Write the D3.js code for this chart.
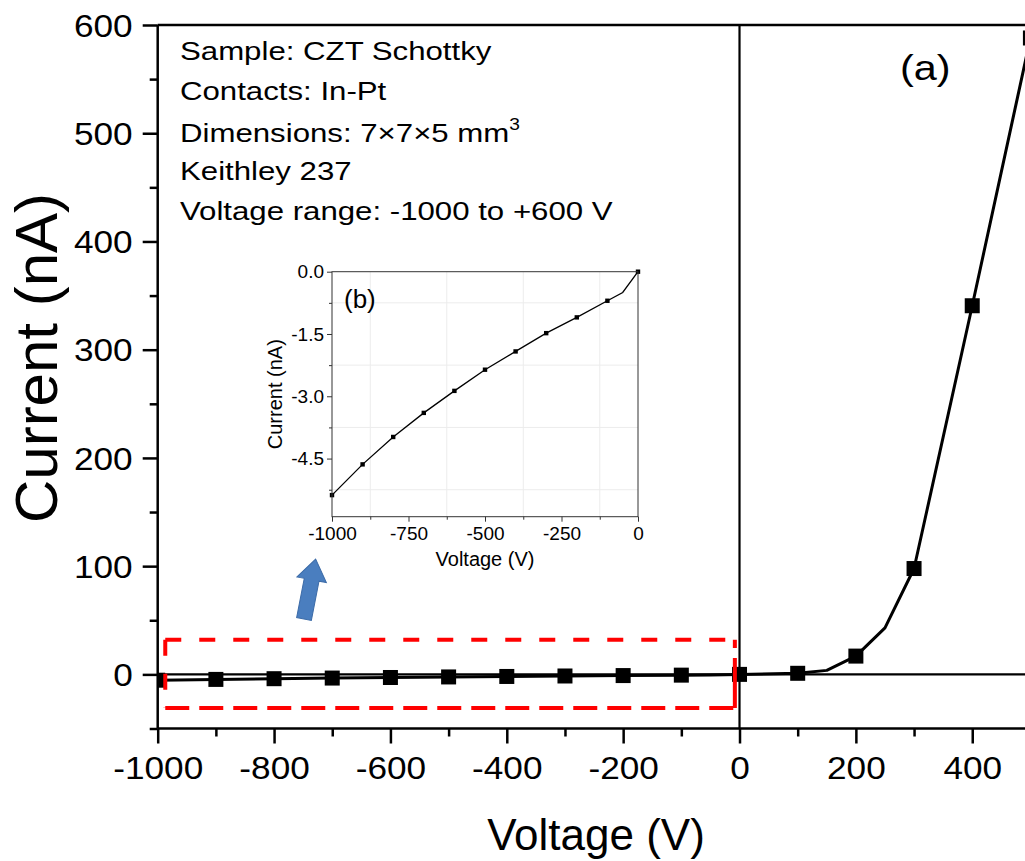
<!DOCTYPE html>
<html><head><meta charset="utf-8">
<script src="https://cdn.jsdelivr.net/npm/d3@7"></script>
<style>body{margin:0;background:#fff} svg{display:block} text{font-family:"Liberation Sans",Arial,sans-serif;fill:#000}</style>
</head><body><svg id="c" width="1025" height="861"></svg>
<script>
// ---- data ----
const voltage = [-1000,-900,-800,-700,-600,-500,-400,-300,-200,-100,-50,0,100,150,200,250,300,400,500];
const current = [-5.38,-4.64,-3.98,-3.40,-2.87,-2.36,-1.92,-1.48,-1.10,-0.70,-0.50,0,1.0,3.7,16.9,43,97.8,340.6,588];
const markerVoltages = [-1000,-900,-800,-700,-600,-500,-400,-300,-200,-100,0,100,200,300,400,500];
const xTicks = [-1000,-800,-600,-400,-200,0,200,400];
const xMinor = [-900,-700,-500,-300,-100,100,300,500];
const yTicks = [0,100,200,300,400,500,600];
const yMinor = [-50,50,150,250,350,450,550];
const insetXTicks = [-1000,-750,-500,-250,0];
const insetXMinor = [-875,-625,-375,-125];
const insetYTicks = [0,-1.5,-3.0,-4.5];
const insetYMinor = [-0.75,-2.25,-3.75,-5.25];
const notes = ["Sample: CZT Schottky","Contacts: In-Pt","Dimensions: 7\u00d77\u00d75 mm","Keithley 237","Voltage range: -1000 to +600 V"];
const zoomBox = {v0:-987, v1:-8, i0:-31, i1:32};

const pts = voltage.map((v,i)=>({v, c:current[i]}));
const markPts = pts.filter(p=>markerVoltages.includes(p.v));
const negPts = pts.filter(p=>p.v<=0);
const negMarks = negPts.filter(p=>p.v%100===0);

const svg = d3.select("#c");
const L=157.7, R=1088.6, T=25, B=728.5;
const x = d3.scaleLinear().domain([-1000,600]).range([L,R]);
const y = d3.scaleLinear().domain([-50,600]).range([B,T]);

svg.append("defs").append("clipPath").attr("id","pc")
  .append("rect").attr("x",L).attr("y",T).attr("width",R-L).attr("height",B-T);

const plot = svg.append("g").attr("clip-path","url(#pc)");
// zero lines
plot.append("line").attr("x1",L).attr("x2",R).attr("y1",y(0)).attr("y2",y(0)).attr("stroke","#000").attr("stroke-width",2.2);
plot.append("line").attr("x1",x(0)).attr("x2",x(0)).attr("y1",T).attr("y2",B).attr("stroke","#000").attr("stroke-width",2.2);
// data line
plot.append("path").datum(pts).attr("fill","none").attr("stroke","#000").attr("stroke-width",3)
  .attr("stroke-linejoin","round")
  .attr("d",d3.line().x(d=>x(d.v)).y(d=>y(d.c)));
const ms=15;
plot.selectAll("rect.m").data(markPts).join("rect").attr("class","m")
  .attr("x",d=>x(d.v)-ms/2).attr("y",d=>y(d.c)-ms/2).attr("width",ms).attr("height",ms).attr("fill","#000");

// red dashed box
const bx0=x(zoomBox.v0), bx1=x(zoomBox.v1), by0=y(zoomBox.i1), by1=y(zoomBox.i0);
const red = svg.append("g").attr("stroke","#f00").attr("stroke-width",4).attr("fill","none");
red.append("line").attr("x1",bx0).attr("x2",bx1).attr("y1",by0).attr("y2",by0).attr("stroke-dasharray","16,18");
red.append("line").attr("x1",bx0).attr("x2",bx1).attr("y1",by1).attr("y2",by1).attr("stroke-dasharray","24,10");
red.append("line").attr("x1",bx0).attr("x2",bx0).attr("y1",by0).attr("y2",by1).attr("stroke-dasharray","16,18");
red.append("line").attr("x1",bx1).attr("x2",bx1).attr("y1",by1).attr("y2",by0).attr("stroke-dasharray","50,10");

// axes
const fmt = d => String(d);
function styleAxis(g,w){ g.select(".domain").remove(); g.selectAll("line").attr("stroke","#000").attr("stroke-width",w); }
const xa = svg.append("g").attr("transform",`translate(0,${B})`)
  .call(d3.axisBottom(x).tickValues(xTicks).tickSize(15).tickFormat(fmt));
styleAxis(xa,2.5);
xa.selectAll(".tick text").attr("font-size",32).attr("dy",0).attr("y",51).attr("x",0).attr("transform","scale(1.1,1)");
const xm = svg.append("g").attr("transform",`translate(0,${B})`)
  .call(d3.axisBottom(x).tickValues(xMinor).tickSize(8).tickFormat(""));
styleAxis(xm,2.5);
const ya = svg.append("g").attr("transform",`translate(${L},0)`)
  .call(d3.axisLeft(y).tickValues(yTicks).tickSize(15).tickFormat(fmt));
styleAxis(ya,2.5);
ya.selectAll(".tick text").attr("font-size",32).attr("dy","0.35em").attr("x",-25/1.1)
  .attr("transform","scale(1.1,1)");
const ym = svg.append("g").attr("transform",`translate(${L},0)`)
  .call(d3.axisLeft(y).tickValues(yMinor).tickSize(8).tickFormat(""));
styleAxis(ym,2.5);
// axis lines & top border
svg.append("line").attr("x1",L).attr("x2",1025).attr("y1",B).attr("y2",B).attr("stroke","#000").attr("stroke-width",2.5);
svg.append("line").attr("x1",L).attr("x2",L).attr("y1",T).attr("y2",B).attr("stroke","#000").attr("stroke-width",2.5);
svg.append("line").attr("x1",L).attr("x2",1025).attr("y1",T).attr("y2",T).attr("stroke","#000").attr("stroke-width",2.5);

// titles
svg.append("text").attr("x",596).attr("y",850).attr("text-anchor","middle").attr("font-size",44).text("Voltage (V)");
svg.append("text").attr("transform","translate(57,358) rotate(-90)")
  .attr("text-anchor","middle").attr("font-size",60).text("Current (nA)");

// notes
const nb=[60,100,141.7,180,220];
notes.forEach((s,i)=>{
  const t = svg.append("g").attr("transform",`translate(180,${nb[i]}) scale(1.2,1)`)
    .append("text").attr("font-size",26).text(s);
  if(i===2) t.append("tspan").attr("font-size",16).attr("dy",-12).text("3");
});
svg.append("g").attr("transform","translate(900,80) scale(1.15,1)")
  .append("text").attr("font-size",36).text("(a)");

// arrow
svg.append("path")
  .attr("d","M-7.5,0 L-7.5,-40 L-15,-40 L0,-61 L15,-40 L7.5,-40 L7.5,0 Z")
  .attr("transform","translate(304,619) rotate(11)")
  .attr("fill","#4a7ebf").attr("stroke","#3d6ca8").attr("stroke-width",1);

// ---- inset ----
const iL=332, iR=638, iT=271.7, iB=516.7;
const ix = d3.scaleLinear().domain([-1000,0]).range([iL,iR]);
const iy = d3.scaleLinear().domain([-5.9,0]).range([iB,iT]);
const ins = svg.append("g");
ins.append("rect").attr("x",iL).attr("y",iT).attr("width",iR-iL).attr("height",iB-iT).attr("fill","#fff");
ins.selectAll("line.gx").data(insetXMinor).join("line").attr("x1",d=>ix(d)).attr("x2",d=>ix(d)).attr("y1",iT).attr("y2",iB).attr("stroke","#ececec");
ins.selectAll("line.gy").data(insetYMinor).join("line").attr("y1",d=>iy(d)).attr("y2",d=>iy(d)).attr("x1",iL).attr("x2",iR).attr("stroke","#ececec");
ins.append("path").datum(negPts).attr("fill","none").attr("stroke","#000").attr("stroke-width",1.3)
  .attr("d",d3.line().x(d=>ix(d.v)).y(d=>iy(d.c)));
ins.selectAll("rect.im").data(negMarks).join("rect").attr("class","im")
  .attr("x",d=>ix(d.v)-2.2).attr("y",d=>iy(d.c)-2.2).attr("width",4.4).attr("height",4.4).attr("fill","#000");
ins.append("rect").attr("x",iL).attr("y",iT).attr("width",iR-iL).attr("height",iB-iT).attr("fill","none").attr("stroke","#333").attr("stroke-width",1);
function insAxis(g){ g.select(".domain").remove(); g.selectAll("line").attr("stroke","#333"); g.selectAll("text").attr("font-size",19).attr("fill","#111"); }
ins.append("g").attr("transform",`translate(0,${iB})`).call(d3.axisBottom(ix).tickValues(insetXTicks).tickSize(5).tickPadding(5).tickFormat(fmt)).call(insAxis);
ins.append("g").attr("transform",`translate(0,${iB})`).call(d3.axisBottom(ix).tickValues(insetXMinor).tickSize(3).tickFormat("")).call(insAxis);
ins.append("g").attr("transform",`translate(${iL},0)`).call(d3.axisLeft(iy).tickValues(insetYTicks).tickSize(5).tickPadding(3).tickFormat(d=>d.toFixed(1))).call(insAxis);
ins.append("g").attr("transform",`translate(${iL},0)`).call(d3.axisLeft(iy).tickValues(insetYMinor).tickSize(3).tickFormat("")).call(insAxis);
ins.append("text").attr("x",(iL+iR)/2).attr("y",566).attr("text-anchor","middle").attr("font-size",20).attr("fill","#111").text("Voltage (V)");
ins.append("text").attr("transform",`translate(282,${(iT+iB)/2}) rotate(-90)`).attr("text-anchor","middle").attr("font-size",20).attr("fill","#111").text("Current (nA)");
ins.append("text").attr("x",344).attr("y",308).attr("font-size",26).text("(b)");
</script></body></html>
